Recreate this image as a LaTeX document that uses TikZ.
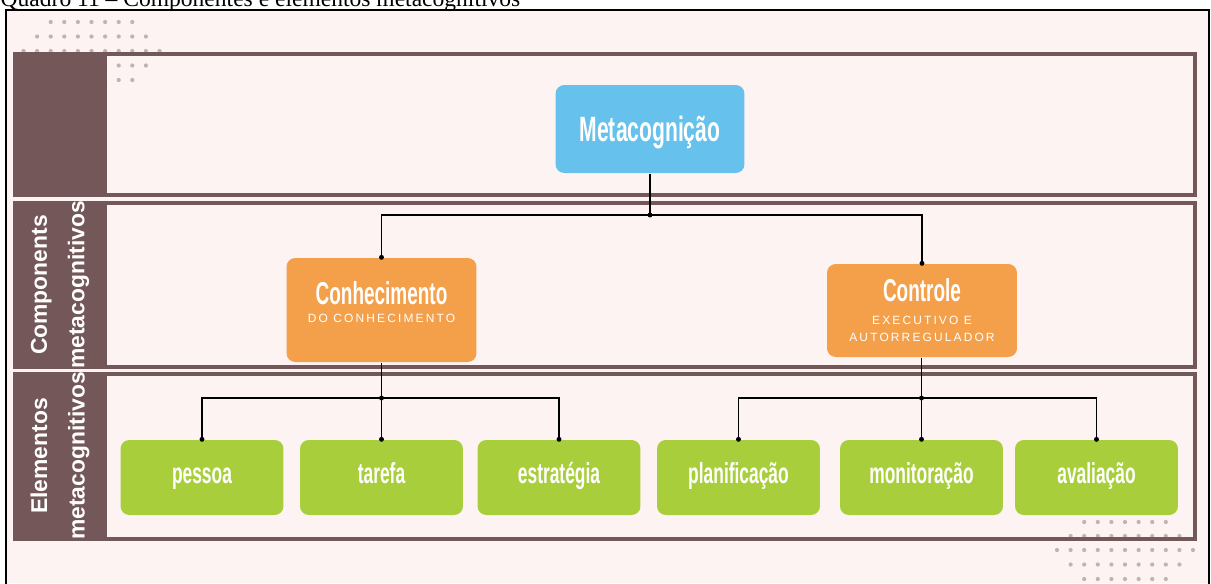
\documentclass[tikz,border=0pt]{standalone}
\usepackage{fontspec}
\setmainfont{Liberation Serif}
\setsansfont{Liberation Sans}
\newfontfamily\condfont[FakeStretch=0.6]{Liberation Sans}
\newfontfamily\spacedfont[LetterSpace=18]{Liberation Sans}
\usepackage{tikz}

\definecolor{bgpink}{HTML}{FDF3F2}
\definecolor{bandbrown}{HTML}{745859}
\definecolor{dotgray}{HTML}{C2B3B3}
\definecolor{metablue}{HTML}{66C1EC}
\definecolor{compORANGE}{HTML}{F4A04A}
\definecolor{elemgreen}{HTML}{A8CF3B}

\tikzset{
  box/.style={rounded corners=5pt, text=white, align=center, inner sep=0pt},
  metabox/.style={box, fill=metablue, minimum width=3.78cm, minimum height=1.76cm,
    text depth=0pt, font=\condfont\bfseries\fontsize{20}{22}\selectfont},
  compbox/.style={box, fill=compORANGE, minimum width=3.8cm},
  headtext/.style={text=white, inner sep=0pt, font=\condfont\bfseries\fontsize{18}{20}\selectfont},
  subtext/.style={text=white, inner sep=0pt, align=center, font=\spacedfont\fontsize{6.8}{9.6}\selectfont},
  elembox/.style={box, fill=elemgreen, minimum width=3.26cm, minimum height=1.5cm,
    text height=0.38cm, text depth=0.16cm, font=\condfont\bfseries\fontsize{16.5}{18}\selectfont},
  sidetext/.style={text=white, rotate=90, align=center, inner sep=0pt,
    font=\sffamily\bfseries\fontsize{13}{19.3}\selectfont},
  jdot/.style={fill=black}
}

\begin{document}
\begin{tikzpicture}[x=0.02cm, y=-0.02cm, thick]
        \useasboundingbox (0,0) rectangle (1211,583);

        % Frame and background
        \fill[bgpink] (6,10) rectangle (1209,583);
        \node[anchor=base west, inner sep=0pt, font=\fontsize{13.4}{16}\selectfont] (title) at (0,6)
          {Quadro 11 – Componentes e elementos metacognitivos};
        \draw[line width=1.4pt] (6,600) -- (6,10) -- (1209,10) -- (1209,600);

        % Dot patterns
        \foreach \n/\y in {7/22, 9/36.5, 11/51, 9/65.5, 7/80}
          \foreach \i in {1,...,\n}
            \fill[dotgray] ({91.5+(\i-(\n+1)/2)*13.6}, \y) circle (1.2pt);
        \foreach \n/\y in {7/522, 9/536, 11/550, 9/564.5, 7/579}
          \foreach \i in {1,...,\n}
            \fill[dotgray] ({1125+(\i-(\n+1)/2)*13.6}, \y) circle (1.2pt);

        % Bands
        \foreach \t/\b in {54/195, 203/367, 374/539} {
          \fill[bandbrown] (13,\t-2) rectangle (107,\b+2);
          \draw[bandbrown, line width=2.3pt] (15,\t) rectangle (1195,\b);
        }
        \node[sidetext] (lblcomp) at (60,285) {Components\\[2pt]metacognitivos};
        \node[sidetext] (lblelem) at (60,456) {Elementos\\[2pt]metacognitivos};

        % Nodes
        \node[metabox] (meta) at (650,129) {Metacognição};

        \node[compbox, minimum height=2.08cm] (conh) at (381.5,310) {};
        \node[headtext] (conhhead) at (381.5,293.5) {Conhecimento};
        \node[subtext] (conhsub) at (381.5,318) {DO CONHECIMENTO};

        \node[compbox, minimum height=1.86cm] (ctrl) at (922,310.5) {};
        \node[headtext] (ctrlhead) at (922,290) {Controle};
        \node[subtext] (ctrlsub) at (922,328.5) {EXECUTIVO E\\AUTORREGULADOR};

        \node[elembox] (pessoa) at (202,477.5) {pessoa};
        \node[elembox] (tarefa) at (381.5,477.5) {tarefa};
        \node[elembox] (estrat) at (559,477.5) {estratégia};
        \node[elembox] (planif) at (738.5,477.5) {planificação};
        \node[elembox] (monit) at (921.5,477.5) {monitoração};
        \node[elembox] (aval) at (1096.5,477.5) {avaliação};

        % Connectors
        \coordinate (j1) at (650,215);
        \coordinate (j2) at (381.5,398);
        \coordinate (j3) at (921.5,398);
        \draw (meta) -- (j1);
        \draw (conh.north) |- (j1) -| (ctrl.north);
        \draw (conh) -- (j2);
        \draw (pessoa.north) |- (j2) -| (estrat.north);
        \draw (j2) -- (tarefa.north);
        \draw (ctrl.south -| j3) -- (j3);
        \draw (planif.north) |- (j3) -| (aval.north);
        \draw (j3) -- (monit.north);

        % Junction dots
        \foreach \p in {j1, j2, j3, conh.north, ctrl.north, pessoa.north, tarefa.north,
                        estrat.north, planif.north, monit.north, aval.north}
          \fill[jdot] (\p) circle (1.4pt);
    \end{tikzpicture}
\end{document}
